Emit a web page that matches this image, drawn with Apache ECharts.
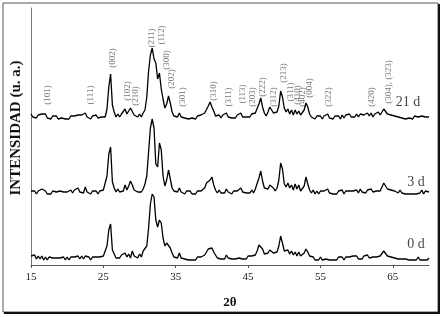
<!DOCTYPE html>
<html>
<head>
<meta charset="utf-8">
<script src="https://cdn.jsdelivr.net/npm/echarts@6/dist/echarts.min.js"></script>
<style>
  html, body { margin: 0; padding: 0; background: #fff; }
  #chart { width: 443px; height: 317px; }
</style>
</head>
<body>
<div id="chart"></div>
<script>
// scan: 2θ from 15 to 70, step 0.25
var thetaStart = 15;
var thetaStep = 0.25;
var xTicks = [15, 25, 35, 45, 55, 65];

// intensidad (u. a.), sin offset
var int21d = [
  5,2,4,1,4,2,5,3,5,1,3,0,3,1,3,0,2,1,3,0,
  2,0,3,1,3,1,4,2,4,3,6,2,3,0,3,1,4,1,3,2,
  4,2,10,32,45,14,7,2,5,2,5,4,10,5,8,11,9,4,5,2,
  5,2,6,9,22,48,64,71,60,56,40,46,30,20,11,15,23,16,7,3,
  5,2,6,2,3,1,3,0,2,1,3,0,3,1,4,2,6,8,13,17,
  12,8,3,1,4,1,4,2,6,2,4,1,3,1,4,3,6,2,4,2,
  4,2,5,3,6,8,15,21,12,6,3,7,12,10,6,4,7,13,28,22,
  11,7,10,5,9,4,9,5,8,4,6,9,16,12,5,2,3,0,3,1,
  3,0,3,2,5,1,3,0,3,1,3,0,4,1,4,2,5,2,4,2,
  5,2,5,3,4,2,6,3,6,2,5,3,7,4,7,10,8,5,7,4,
  6,3,4,2,3,1,3,0,2,1,3,0,3,1,2,0,3,1,2,0,
  2
];
var int3d = [
  3,1,3,0,3,2,5,3,3,0,2,0,3,1,2,0,3,1,2,0,
  2,1,4,1,4,2,6,2,3,1,7,2,3,0,3,1,3,0,3,1,
  4,3,18,40,47,12,6,2,5,2,4,3,9,4,8,13,9,4,4,2,
  4,2,5,10,18,42,66,75,66,30,27,51,44,18,8,14,24,15,6,3,
  4,2,6,2,3,0,3,1,3,0,2,0,3,1,3,2,6,11,9,14,
  17,9,4,1,4,1,3,1,5,2,3,0,3,1,3,2,6,2,3,1,
  3,1,4,1,5,7,16,23,13,6,4,5,9,11,6,3,6,14,31,25,
  10,7,11,6,9,4,10,5,9,3,5,8,17,10,4,1,4,0,3,0,
  3,1,3,2,5,1,2,0,2,0,3,1,4,0,3,2,3,1,3,2,
  4,1,5,2,3,1,4,2,5,2,4,3,5,3,7,11,9,5,7,4,
  6,3,4,1,4,1,2,0,2,0,2,0,2,0,2,1,4,0,3,1,
  2
];
var int0d = [
  4,2,5,1,4,1,4,0,3,0,3,1,2,0,2,1,2,0,3,0,
  3,0,3,1,3,1,4,1,4,1,4,2,3,0,3,1,3,1,3,1,
  4,3,14,30,36,10,6,2,4,2,5,3,7,3,6,2,9,4,5,2,
  6,3,9,7,14,32,56,66,63,40,33,40,37,22,14,17,19,12,7,3,
  5,2,7,2,4,1,3,0,2,0,2,0,3,1,3,2,5,8,11,10,
  12,8,5,2,3,1,3,1,5,2,3,1,3,1,3,2,4,1,3,1,
  4,2,4,2,5,9,15,17,11,6,4,7,10,11,7,5,8,14,24,17,
  9,7,10,6,9,5,8,4,8,4,6,7,11,8,4,2,3,0,2,0,
  3,0,2,1,3,0,2,0,2,0,3,1,3,0,3,1,3,1,4,2,
  4,1,3,1,4,2,5,2,4,3,4,3,5,4,6,9,7,4,6,3,
  5,2,4,1,3,1,3,1,2,0,2,0,2,0,3,0,2,0,2,0,
  2
];

// desplazamiento vertical de cada muestra
var offsets = { '0 d': 5, '3 d': 71, '21 d': 146 };

// indices de Miller (2θ y altura de la etiqueta)
var hklNames = ['(101)', '(111)', '(002)', '(102)', '(210)', '(211)', '(112)', '(300)', '(202)', '(301)',
  '(310)', '(311)', '(113)', '(203)', '(222)', '(312)', '(213)', '(311)', '(410)', '(402)',
  '(004)', '(322)', '(420)', '(304), (323)'];
var hklTheta = [17.3, 23.2, 26.3, 28.4, 29.4, 31.7, 33.1, 33.7, 34.5, 35.9,
  40.2, 42.3, 44.2, 45.6, 47.0, 48.5, 49.9, 50.9, 51.8, 52.6,
  53.5, 56.2, 62.1, 64.4];
var hklY = [170, 170, 207, 174, 169, 227, 230, 205, 186, 168,
  174, 168, 171, 168, 178, 168, 192, 173, 170, 168,
  177, 168, 168, 183];

function toPoints(arr, off) {
  var pts = [];
  for (var i = 0; i < arr.length; i++) {
    pts.push([thetaStart + i * thetaStep, arr[i] + off]);
  }
  return pts;
}

var chart = echarts.init(document.getElementById('chart'));

var serif = 'Liberation Serif';

var hklData = [];
for (var i = 0; i < hklNames.length; i++) {
  hklData.push({ value: [hklTheta[i], hklY[i]], label: { formatter: hklNames[i] } });
}

var traceStyle = { color: '#000', width: 1.3 };

chart.setOption({
  animation: false,
  grid: { left: 31, right: 14, top: 8, bottom: 52 },
  xAxis: {
    type: 'value',
    min: 15,
    max: 70,
    interval: 5,
    splitLine: { show: false },
    axisLine: { lineStyle: { color: '#555', width: 1 } },
    axisTick: { customValues: xTicks, length: 3, lineStyle: { color: '#555' } },
    axisLabel: { customValues: xTicks, margin: 7, fontFamily: serif, fontSize: 11, color: '#222' },
    name: '2θ',
    nameLocation: 'middle',
    nameGap: 31,
    nameTextStyle: { fontFamily: serif, fontSize: 13, fontWeight: 'bold', color: '#111' }
  },
  yAxis: {
    type: 'value',
    min: 0,
    max: 257,
    splitLine: { show: false },
    axisLine: { show: true, lineStyle: { color: '#777', width: 1 } },
    axisTick: { show: false },
    axisLabel: { show: false }
  },
  graphic: [
    {
      type: 'rect',
      shape: { x: 3, y: 3, width: 435, height: 309 },
      style: { fill: 'none', stroke: '#555', lineWidth: 1 },
      silent: true
    },
    {
      type: 'polyline',
      shape: { points: [[439, 4], [439, 313], [4, 313]] },
      style: { fill: 'none', stroke: '#111', lineWidth: 2 },
      silent: true
    },
    {
      type: 'text',
      x: 16,
      y: 128,
      rotation: Math.PI / 2,
      style: {
        text: 'INTENSIDAD (u. a.)',
        fontFamily: serif,
        fontSize: 15,
        fontWeight: 'bold',
        fill: '#111',
        align: 'center',
        verticalAlign: 'middle'
      }
    }
  ],
  series: [
    {
      name: '21 d', type: 'line', data: toPoints(int21d, offsets['21 d']),
      showSymbol: false, lineStyle: traceStyle
    },
    {
      name: '3 d', type: 'line', data: toPoints(int3d, offsets['3 d']),
      showSymbol: false, lineStyle: traceStyle
    },
    {
      name: '0 d', type: 'line', data: toPoints(int0d, offsets['0 d']),
      showSymbol: false, lineStyle: traceStyle
    },
    {
      // etiquetas hkl
      type: 'scatter',
      symbolSize: 0,
      data: hklData,
      label: {
        show: true,
        position: 'inside',
        rotate: 90,
        fontFamily: serif,
        fontSize: 9,
        color: '#555'
      },
      silent: true
    },
    {
      // nombre de cada muestra
      type: 'scatter',
      symbolSize: 0,
      data: [
        { value: [67.1, 163], label: { formatter: '21 d' } },
        { value: [68.2, 83], label: { formatter: '3 d' } },
        { value: [68.2, 21], label: { formatter: '0 d' } }
      ],
      label: {
        show: true,
        position: 'inside',
        fontFamily: serif,
        fontSize: 14,
        color: '#111'
      },
      silent: true
    }
  ]
});
</script>
</body>
</html>
